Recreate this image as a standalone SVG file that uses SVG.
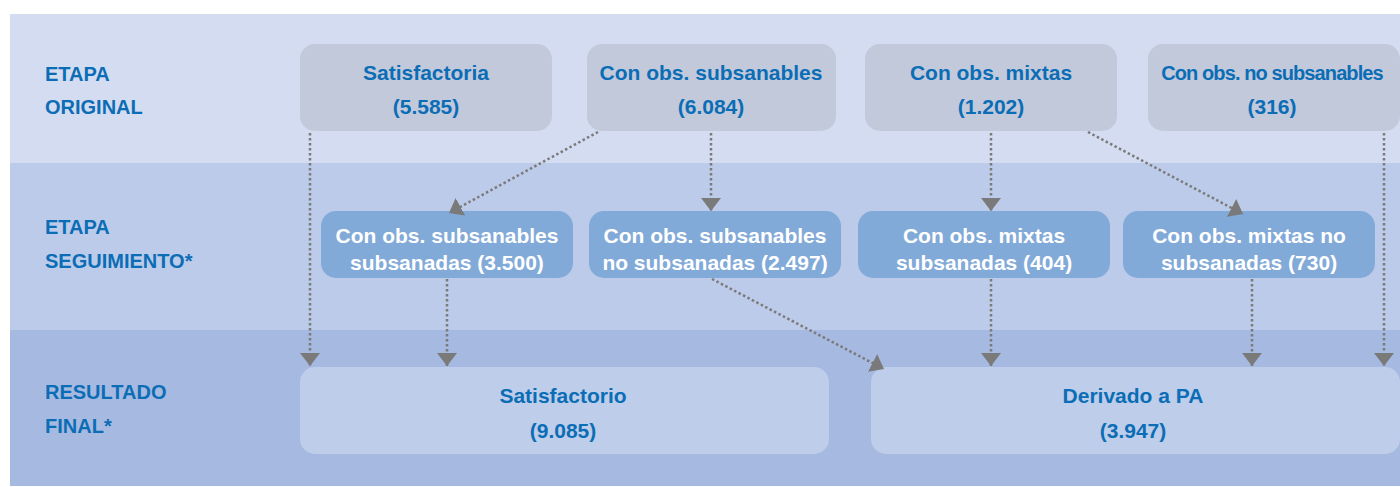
<svg xmlns="http://www.w3.org/2000/svg" width="1400" height="487" viewBox="0 0 1400 487">
<defs>
<style>
.band1{fill:#d4dcf1}
.band2{fill:#bccbe9}
.band3{fill:#a6b9e0}
.top{fill:#c2c9db}
.mid{fill:#82aad8}
.bot{fill:#bdcdea}
text{font-family:"Liberation Sans",Arial,sans-serif;font-weight:bold;font-size:21px;text-anchor:middle}
.lbl{fill:#0b6db5;text-anchor:start;font-size:20px}
.blue{fill:#0b6db5}
.white{fill:#ffffff}
.tight{font-size:20px;letter-spacing:-0.9px}
.conn line{stroke:#7a7a7a;stroke-width:2.5;stroke-dasharray:2.5 2.5;fill:none;marker-end:url(#arr)}
</style>
<marker id="arr" viewBox="0 0 13 20" refX="13" refY="10" markerWidth="13" markerHeight="20" markerUnits="userSpaceOnUse" orient="auto">
<path d="M0,0 L13,10 L0,20 Z" fill="#7a7a7a"/>
</marker>
</defs>
<rect x="0" y="0" width="1400" height="487" fill="#ffffff"/>
<g id="bands">
<rect class="band1" x="10" y="14" width="1390" height="149"/>
<rect class="band2" x="10" y="163" width="1390" height="167"/>
<rect class="band3" x="10" y="330" width="1390" height="156"/>
</g>
<g id="labels">
<text class="lbl" x="45" y="81">ETAPA</text>
<text class="lbl" x="45" y="114">ORIGINAL</text>
<text class="lbl" x="45" y="234">ETAPA</text>
<text class="lbl" x="45" y="268">SEGUIMIENTO*</text>
<text class="lbl" x="45" y="399">RESULTADO</text>
<text class="lbl" x="45" y="433">FINAL*</text>
</g>
<g id="n-satisfactoria">
<rect class="top" x="300" y="44" width="252" height="87" rx="15"/>
<text class="blue" x="426" y="80">Satisfactoria</text>
<text class="blue" x="426" y="114">(5.585)</text>
</g>
<g id="n-subsanables">
<rect class="top" x="587" y="44" width="249" height="87" rx="15"/>
<text class="blue" x="711" y="80">Con obs. subsanables</text>
<text class="blue" x="711" y="114">(6.084)</text>
</g>
<g id="n-mixtas">
<rect class="top" x="865" y="44" width="252" height="87" rx="15"/>
<text class="blue" x="991" y="80">Con obs. mixtas</text>
<text class="blue" x="991" y="114">(1.202)</text>
</g>
<g id="n-nosubsanables">
<rect class="top" x="1148" y="44" width="252" height="87" rx="15"/>
<text class="blue tight" x="1272" y="80">Con obs. no subsanables</text>
<text class="blue" x="1272" y="114">(316)</text>
</g>
<g id="n-sub-subsanadas">
<rect class="mid" x="321" y="211" width="252" height="67" rx="15"/>
<text class="white" x="447" y="243">Con obs. subsanables</text>
<text class="white" x="447" y="270">subsanadas (3.500)</text>
</g>
<g id="n-sub-nosubsanadas">
<rect class="mid" x="589" y="211" width="252" height="67" rx="15"/>
<text class="white" x="715" y="243">Con obs. subsanables</text>
<text class="white" x="715" y="270">no subsanadas (2.497)</text>
</g>
<g id="n-mix-subsanadas">
<rect class="mid" x="858" y="211" width="252" height="67" rx="15"/>
<text class="white" x="984" y="243">Con obs. mixtas</text>
<text class="white" x="984" y="270">subsanadas (404)</text>
</g>
<g id="n-mix-nosubsanadas">
<rect class="mid" x="1123" y="211" width="252" height="67" rx="15"/>
<text class="white" x="1249" y="243">Con obs. mixtas no</text>
<text class="white" x="1249" y="270">subsanadas (730)</text>
</g>
<g id="n-satisfactorio">
<rect class="bot" x="300" y="367" width="529" height="87" rx="15"/>
<text class="blue" x="563" y="403">Satisfactorio</text>
<text class="blue" x="563" y="438">(9.085)</text>
</g>
<g id="n-derivado">
<rect class="bot" x="871" y="367" width="529" height="87" rx="15"/>
<text class="blue" x="1133" y="403">Derivado a PA</text>
<text class="blue" x="1133" y="438">(3.947)</text>
</g>
<g id="connectors" class="conn">
<line x1="310" y1="133" x2="310" y2="366"/>
<line x1="598" y1="132" x2="449" y2="213"/>
<line x1="711" y1="133" x2="711" y2="211"/>
<line x1="991" y1="133" x2="991" y2="211"/>
<line x1="1088" y1="132" x2="1243" y2="214"/>
<line x1="1384" y1="133" x2="1384" y2="366"/>
<line x1="447" y1="279" x2="447" y2="366"/>
<line x1="712" y1="279" x2="884" y2="369"/>
<line x1="991" y1="279" x2="991" y2="366"/>
<line x1="1252" y1="279" x2="1252" y2="366"/>
</g>
</svg>
